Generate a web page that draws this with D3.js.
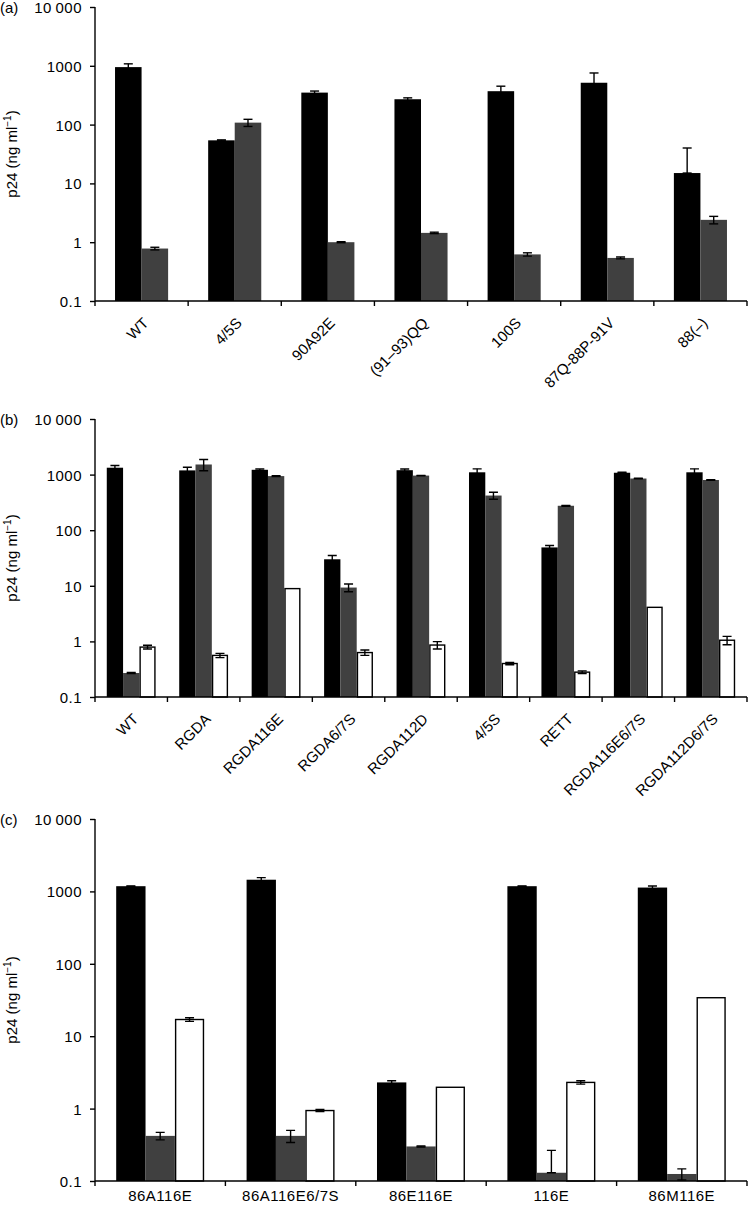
<!DOCTYPE html>
<html>
<head>
<meta charset="utf-8">
<script src="https://cdn.jsdelivr.net/npm/d3@7"></script>
<style>
  html, body { margin: 0; padding: 0; background: #fff; }
  svg { display: block; }
  text { font-family: "Liberation Sans", Arial, Helvetica, sans-serif; fill: #000; }
</style>
</head>
<body>
<svg id="chart" width="748" height="1207"></svg>
<script>
// ---------------- DATA ----------------
const yTickValues = [0.1, 1, 10, 100, 1000, 10000];
const yTickLabels = ["0.1", "1", "10", "100", "1000", "10\u2009000"];

// Panel (a)
const catsA = ["WT", "4/5S", "90A92E", "(91\u201393)QQ", "100S", "87Q-88P-91V", "88(\u2013)"];
const a_black = [950, 54, 350, 270, 370, 515, 15];
const a_blackErr = [130, 1, 22, 15, 80, 240, 25];
const a_gray = [0.78, 108, 1.0, 1.44, 0.62, 0.54, 2.4];
const a_grayErr = [0.04, 15, 0.02, 0.04, 0.04, 0.02, 0.35];

// Panel (b)
const catsB = ["WT", "RGDA", "RGDA116E", "RGDA6/7S", "RGDA112D", "4/5S", "RETT", "RGDA116E6/7S", "RGDA112D6/7S"];
const b_black = [1330, 1190, 1220, 30, 1200, 1100, 49, 1080, 1100];
const b_blackErr = [130, 170, 40, 5, 60, 170, 4, 20, 170];
const b_gray = [0.27, 1520, 940, 9.3, 960, 420, 275, 850, 800];
const b_grayErr = [0.005, 350, 20, 1.5, 10, 60, 5, 10, 10];
const b_white = [0.79, 0.56, 8.9, 0.63, 0.86, 0.40, 0.28, 4.1, 1.05];
const b_whiteErr = [0.06, 0.05, 0, 0.07, 0.13, 0.02, 0.015, 0, 0.18];

// Panel (c)
const catsC = ["86A116E", "86A116E6/7S", "86E116E", "116E", "86M116E"];
const c_black = [1180, 1450, 2.3, 1180, 1130];
const c_blackErr = [10, 100, 0.12, 10, 60];
const c_gray = [0.42, 0.42, 0.30, 0.13, 0.125];
const c_grayErr = [0.05, 0.08, 0.005, 0.135, 0.022];
const c_white = [17, 0.94, 1.97, 2.3, 34];
const c_whiteErr = [1, 0.03, 0, 0.12, 0];

const yLabelMain = "p24 (ng ml";
const yLabelSup = "\u22121";
const yLabelEnd = ")";

// ---------------- DRAWING ----------------
const svg = d3.select("#chart");
const defs = svg.append("defs");
const FONT = 15;
const COLORS = { black: "#000000", gray: "#404040", white: "#ffffff" };

function drawPanel(cfg) {
  const g = svg.append("g");
  const x0 = 95, x1 = 747;
  const y = d3.scaleLog().domain([0.1, 10000]).range([cfg.yBottom, cfg.yTop]);
  const x = d3.scaleBand().domain(cfg.cats).range([x0, x1]).padding(0);
  const bw = x.bandwidth();
  const groupW = bw * cfg.barFrac * cfg.series.length;
  const inner = d3.scaleBand().domain(d3.range(cfg.series.length))
    .range([(bw - groupW) / 2, (bw + groupW) / 2]).padding(0);

  const clipId = "clip" + cfg.id;
  defs.append("clipPath").attr("id", clipId).append("rect")
    .attr("x", x0).attr("y", cfg.yTop - 20).attr("width", x1 - x0 + 2).attr("height", cfg.yBottom - cfg.yTop + 20 + 1.5);

  // bars
  cfg.series.forEach((s, si) => {
    g.append("g").selectAll("rect").data(s.values).join("rect")
      .attr("x", (d, i) => x(cfg.cats[i]) + inner(si) + (s.color === "white" ? 0.75 : 0))
      .attr("width", inner.bandwidth() - (s.color === "white" ? 1.5 : 0))
      .attr("y", d => y(d))
      .attr("height", d => cfg.yBottom - y(d))
      .attr("fill", COLORS[s.color])
      .attr("stroke", s.color === "white" ? "#000" : "none")
      .attr("stroke-width", 1.4);
  });

  // error bars
  const eg = g.append("g").attr("clip-path", `url(#${clipId})`)
    .attr("stroke", "#000").attr("stroke-width", 1.4).attr("fill", "none");
  const capW = 9;
  cfg.series.forEach((s, si) => {
    s.values.forEach((v, i) => {
      const e = s.err[i];
      if (!e) return;
      const cx = x(cfg.cats[i]) + inner(si) + inner.bandwidth() / 2;
      const hi = v + e;
      const lo = (v - e) > 0 ? v - e : v;
      const yHi = y(hi), yLo = y(lo);
      eg.append("line").attr("x1", cx).attr("x2", cx).attr("y1", yHi).attr("y2", yLo);
      eg.append("line").attr("x1", cx - capW / 2).attr("x2", cx + capW / 2).attr("y1", yHi).attr("y2", yHi);
      eg.append("line").attr("x1", cx - capW / 2).attr("x2", cx + capW / 2).attr("y1", yLo).attr("y2", yLo);
    });
  });

  // y axis
  const yAxis = d3.axisLeft(y).tickValues(yTickValues)
    .tickFormat((d, i) => yTickLabels[i]).tickSize(5).tickSizeOuter(0).tickPadding(8);
  const ya = g.append("g").attr("transform", `translate(${x0},0)`).call(yAxis);
  ya.select(".domain").attr("stroke-width", 1.4).attr("d", `M0,${cfg.yTop}V${cfg.yBottom}`);
  ya.selectAll(".tick line").attr("stroke-width", 1.4);
  ya.selectAll(".tick text").attr("font-size", FONT).attr("letter-spacing", "0.5px")
    .attr("font-family", '"Liberation Sans", Arial, sans-serif')
    .attr("dy", "0.36em");

  // x axis with ticks at band boundaries
  const xa = g.append("g");
  xa.append("line").attr("x1", x0).attr("x2", x1).attr("y1", cfg.yBottom).attr("y2", cfg.yBottom)
    .attr("stroke", "#000").attr("stroke-width", 1.4);
  const bounds = cfg.cats.map(c => x(c)).concat([x1]);
  xa.selectAll("line.tk").data(bounds).join("line").attr("class", "tk")
    .attr("x1", d => d).attr("x2", d => d)
    .attr("y1", cfg.yBottom).attr("y2", cfg.yBottom + 5)
    .attr("stroke", "#000").attr("stroke-width", 1.4);

  // category labels
  if (cfg.rotate) {
    xa.selectAll("text.xl").data(cfg.cats).join("text").attr("class", "xl")
      .attr("font-size", FONT)
      .attr("text-anchor", "end")
      .attr("transform", d => `translate(${x(d) + bw / 2 + 8},${cfg.yBottom + 23}) rotate(-45)`)
      .text(d => d);
  } else {
    xa.selectAll("text.xl").data(cfg.cats).join("text").attr("class", "xl")
      .attr("font-size", FONT).attr("letter-spacing", "0.5px")
      .attr("text-anchor", "middle")
      .attr("x", d => x(d) + bw / 2)
      .attr("y", cfg.yBottom + 20)
      .text(d => d);
  }

  // panel letter
  g.append("text").attr("x", 0).attr("y", cfg.yTop + 6).attr("font-size", FONT)
    .text(cfg.letter);

  // y-axis title
  const yl = g.append("text").attr("font-size", FONT).attr("text-anchor", "middle")
    .attr("transform", `translate(17,${(cfg.yTop + cfg.yBottom) / 2}) rotate(-90)`);
  yl.append("tspan").text(yLabelMain);
  yl.append("tspan").attr("font-size", 10).attr("dy", -6).text(yLabelSup);
  yl.append("tspan").attr("dy", 6).text(yLabelEnd);
}

drawPanel({
  id: "a", letter: "(a)", cats: catsA, yTop: 7, yBottom: 301, barFrac: 0.285, rotate: true,
  series: [
    { values: a_black, err: a_blackErr, color: "black" },
    { values: a_gray, err: a_grayErr, color: "gray" }
  ]
});
drawPanel({
  id: "b", letter: "(b)", cats: catsB, yTop: 419, yBottom: 697, barFrac: 0.225, rotate: true,
  series: [
    { values: b_black, err: b_blackErr, color: "black" },
    { values: b_gray, err: b_grayErr, color: "gray" },
    { values: b_white, err: b_whiteErr, color: "white" }
  ]
});
drawPanel({
  id: "c", letter: "(c)", cats: catsC, yTop: 819, yBottom: 1181, barFrac: 0.225, rotate: false,
  series: [
    { values: c_black, err: c_blackErr, color: "black" },
    { values: c_gray, err: c_grayErr, color: "gray" },
    { values: c_white, err: c_whiteErr, color: "white" }
  ]
});
</script>
</body>
</html>
